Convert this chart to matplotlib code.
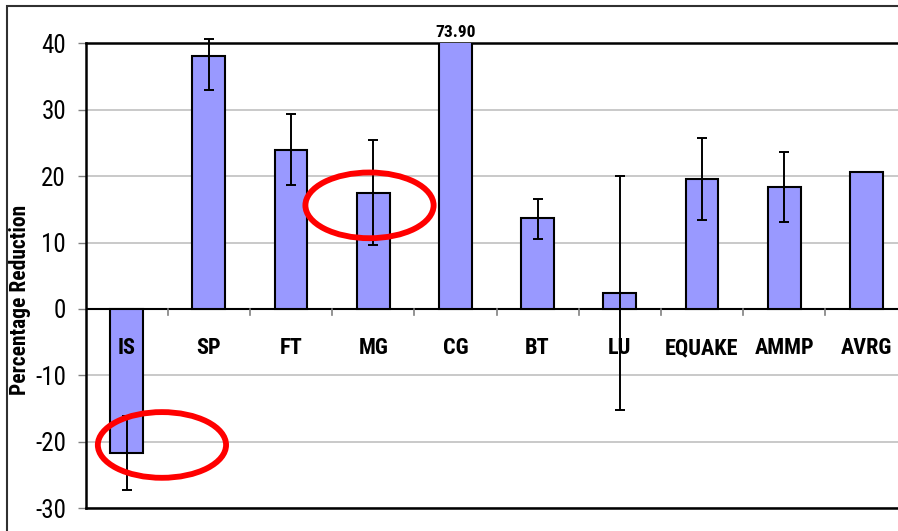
import matplotlib
matplotlib.use("Agg")
import matplotlib.pyplot as plt
from matplotlib import font_manager
from matplotlib.patches import Ellipse, Rectangle
import numpy as np

# Benchmarks and measured reduction (%) with lower/upper error spans
benchmarks = ["IS", "SP", "FT", "MG", "CG", "BT", "LU", "EQUAKE", "AMMP", "AVRG"]
reduction = [-21.7, 38.1, 24.0, 17.5, 73.90, 13.7, 2.4, 19.6, 18.4, 20.6]
err_low = [5.6, 5.1, 5.4, 7.9, 0.0, 3.2, 17.6, 6.2, 5.3, 0.0]
err_high = [5.5, 2.5, 5.4, 7.9, 0.0, 2.9, 17.6, 6.2, 5.2, 0.0]
has_err = [True, True, True, True, False, True, True, True, True, False]
y_ticks = [-30, -20, -10, 0, 10, 20, 30, 40]
clipped_label = "73.90"

# Pick a condensed sans face if available
available = {f.name for f in font_manager.fontManager.ttflist}
family = "DejaVu Sans"
for cand in ["Liberation Sans Narrow", "Roboto Condensed", "DejaVu Sans Condensed", "Liberation Sans"]:
    if cand in available:
        family = cand
        break
plt.rcParams["font.family"] = [family, "DejaVu Sans"]
plt.rcParams["axes.unicode_minus"] = False

W, H = 898, 531
fig = plt.figure(figsize=(W / 100, H / 100), dpi=100)

# Outer chart frame
fig.patches.append(Rectangle((7 / W, -0.1), 1.2, (H - 6) / H + 0.1,
                             transform=fig.transFigure, fill=False,
                             edgecolor="#303030", linewidth=1.5))

left, right, top, bottom = 85.5, 907.5, 43.4, 508.0
ax = fig.add_axes([left / W, (H - bottom) / H, (right - left) / W, (bottom - top) / H])
ax.set_xlim(-0.5, len(benchmarks) - 0.5)
ax.set_ylim(-30, 40)

x = np.arange(len(benchmarks))
ax.bar(x, reduction, width=0.4, color="#9999ff", edgecolor="black", linewidth=1.5, zorder=3)

mask = np.array(has_err)
ax.errorbar(x[mask], np.array(reduction)[mask],
            yerr=[np.array(err_low)[mask], np.array(err_high)[mask]],
            fmt="none", ecolor="black", elinewidth=1.4,
            capsize=3.5, capthick=1.4, zorder=4, clip_on=False)

# Gridlines
ax.set_yticks(y_ticks)
ax.yaxis.grid(True, color="#c0c0c0", linewidth=1.2, zorder=0)
ax.set_axisbelow(True)
ax.tick_params(axis="y", direction="out", length=6, width=1, color="#808080",
               labelsize=18, pad=8)

# Zero baseline with category boundary ticks
ax.axhline(0, color="black", linewidth=1.5, zorder=2)
for b in np.arange(0.5, len(benchmarks) - 0.5, 1.0):
    ax.plot([b, b], [0, -0.9], color="#808080", linewidth=1.2, zorder=2, clip_on=False)
ax.set_xticks([])
for xi, name in zip(x, benchmarks):
    ax.text(xi, -5.9, name, ha="center", va="center", fontsize=16, fontweight="bold", zorder=5)

for s in ["left", "bottom", "top"]:
    ax.spines[s].set_linewidth(1.8)
    ax.spines[s].set_color("black")
ax.spines["right"].set_visible(False)

# Value of the clipped bar
cg = benchmarks.index("CG")
ax.text(x[cg], 40.5, clipped_label, ha="center", va="bottom", fontsize=12.5,
        fontweight="bold", clip_on=False)

ax.set_ylabel("Percentage Reduction", fontsize=15.5, fontweight="bold")
ax.yaxis.label.set_verticalalignment("center")
ax.yaxis.set_label_coords(-65 / (right - left), 0.448)

# Highlight ellipses
ax.add_patch(Ellipse((0.43, -20.5), 1.56, 9.9, fill=False, edgecolor="#ff0000",
                     linewidth=4.2, zorder=6))
ax.add_patch(Ellipse((2.955, 15.6), 1.56, 9.9, fill=False, edgecolor="#ff0000",
                     linewidth=4.2, zorder=6))

fig.savefig("out.png", dpi=100)
